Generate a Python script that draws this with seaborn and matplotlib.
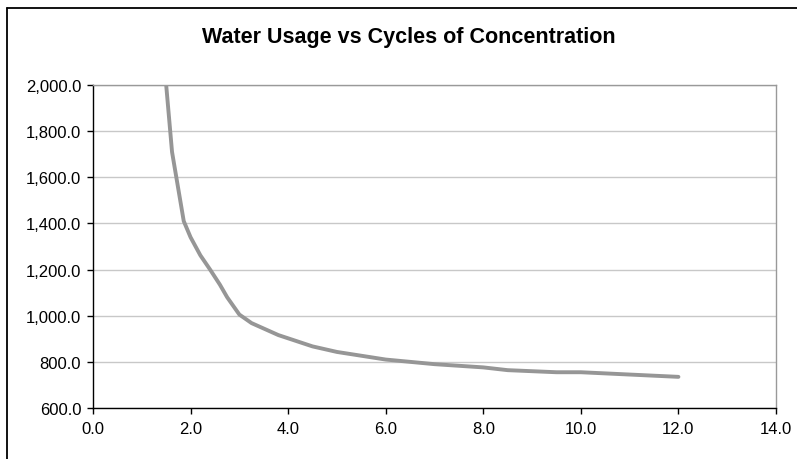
import matplotlib
matplotlib.use("Agg")
import matplotlib.pyplot as plt
import matplotlib.ticker as mticker
from matplotlib.lines import Line2D
import seaborn as sns
import pandas as pd

cycles = [1.5, 1.62, 1.86, 2.0, 2.2, 2.4, 2.6, 2.75, 3.0, 3.25, 3.8, 4.5, 5.0, 6.0,
          7.0, 8.0, 8.5, 9.5, 10.0, 11.0, 12.0]
water_usage = [2000, 1710, 1410, 1340, 1262, 1200, 1135, 1080, 1005, 968, 916, 867, 843,
               810, 790, 776, 764, 755, 755, 745, 735]
title = "Water Usage vs Cycles of Concentration"

df = pd.DataFrame({"cycles": cycles, "water": water_usage})

sns.set_style("white")
plt.rcParams["font.family"] = ["Liberation Sans", "DejaVu Sans"]

fig = plt.figure(figsize=(7.97, 4.60), dpi=100)
ax = fig.add_axes([93/797, 1-409/460, (776-93)/797, (409-86)/460])

sns.lineplot(data=df, x="cycles", y="water", ax=ax, color="#969696", linewidth=2.8,
             sort=False, estimator=None)

ax.set_xlim(0, 14)
ax.set_ylim(600, 2000)
ax.set_xticks([0, 2, 4, 6, 8, 10, 12, 14])
ax.set_yticks([600, 800, 1000, 1200, 1400, 1600, 1800, 2000])
ax.xaxis.set_major_formatter(mticker.FuncFormatter(lambda v, p: f"{v:.1f}"))
ax.yaxis.set_major_formatter(mticker.FuncFormatter(lambda v, p: f"{v:,.1f}"))
ax.set_xlabel("")
ax.set_ylabel("")
ax.grid(axis="y", color="#c8c8c8", linewidth=1.0)
ax.set_axisbelow(True)

for s in ["left", "bottom"]:
    ax.spines[s].set_color("black")
    ax.spines[s].set_linewidth(1.0)
for s in ["top", "right"]:
    ax.spines[s].set_color("#999999")
    ax.spines[s].set_linewidth(1.0)

ax.tick_params(axis="both", which="major", direction="out", length=4.5, width=1,
               color="black", labelsize=12, labelcolor="black")
ax.tick_params(axis="x", pad=5)
ax.tick_params(axis="y", pad=4)
ax.tick_params(bottom=True, left=True)

fig.text(409/797, 1-38/460, title, ha="center", va="center", fontsize=15.5,
         fontweight="bold", color="black")

# outer chart frame (left and top edges visible)
fig.add_artist(Line2D([7/797, 7/797], [-0.1, 1-9/460], transform=fig.transFigure,
                      color="black", linewidth=1.3))
fig.add_artist(Line2D([7/797, 1.1], [1-9/460, 1-9/460], transform=fig.transFigure,
                      color="black", linewidth=1.3))

fig.savefig("out.png", dpi=100)
